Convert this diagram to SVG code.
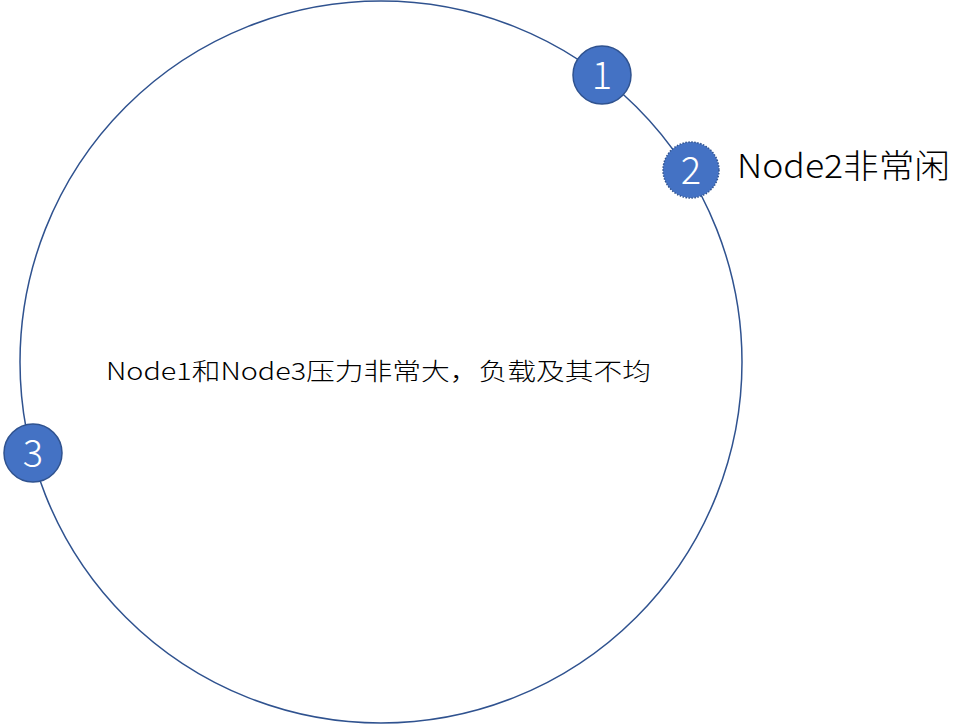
<svg xmlns="http://www.w3.org/2000/svg" width="980" height="724" viewBox="0 0 980 724">
<style>
.ring{fill:none;stroke:#2F528F;stroke-width:1.5}
.node{fill:#4472C4;stroke:#2F528F;stroke-width:1.5}
.dot{stroke-dasharray:1.5 1.5}
.num{font-family:"Noto Sans CJK SC","Liberation Sans",sans-serif;font-size:38px;font-weight:300;fill:#FFFFFF;text-anchor:middle}
.lbl{font-family:"Noto Sans CJK SC","Liberation Sans",sans-serif;font-weight:300;fill:#000000}
</style>
<rect width="980" height="724" fill="#FFFFFF"/>
<g id="connectors">
<circle class="ring" cx="381" cy="362" r="361"/>
</g>
<g id="node1">
<circle class="node" cx="602" cy="75" r="29"/>
<text class="num" x="602" y="89">1</text>
</g>
<g id="node2">
<circle class="node dot" cx="691" cy="170" r="28"/>
<text class="num" x="691" y="184">2</text>
</g>
<g id="node3">
<circle class="node" cx="33" cy="453" r="29"/>
<text class="num" x="33" y="467">3</text>
</g>
<g id="label-node2">
<text class="lbl" x="737" y="178" font-size="33" textLength="213" lengthAdjust="spacingAndGlyphs">Node2非常闲</text>
</g>
<g id="label-center">
<text class="lbl" x="106" y="380" font-size="24" textLength="545" lengthAdjust="spacingAndGlyphs">Node1和Node3压力非常大，负载及其不均</text>
</g>
</svg>
